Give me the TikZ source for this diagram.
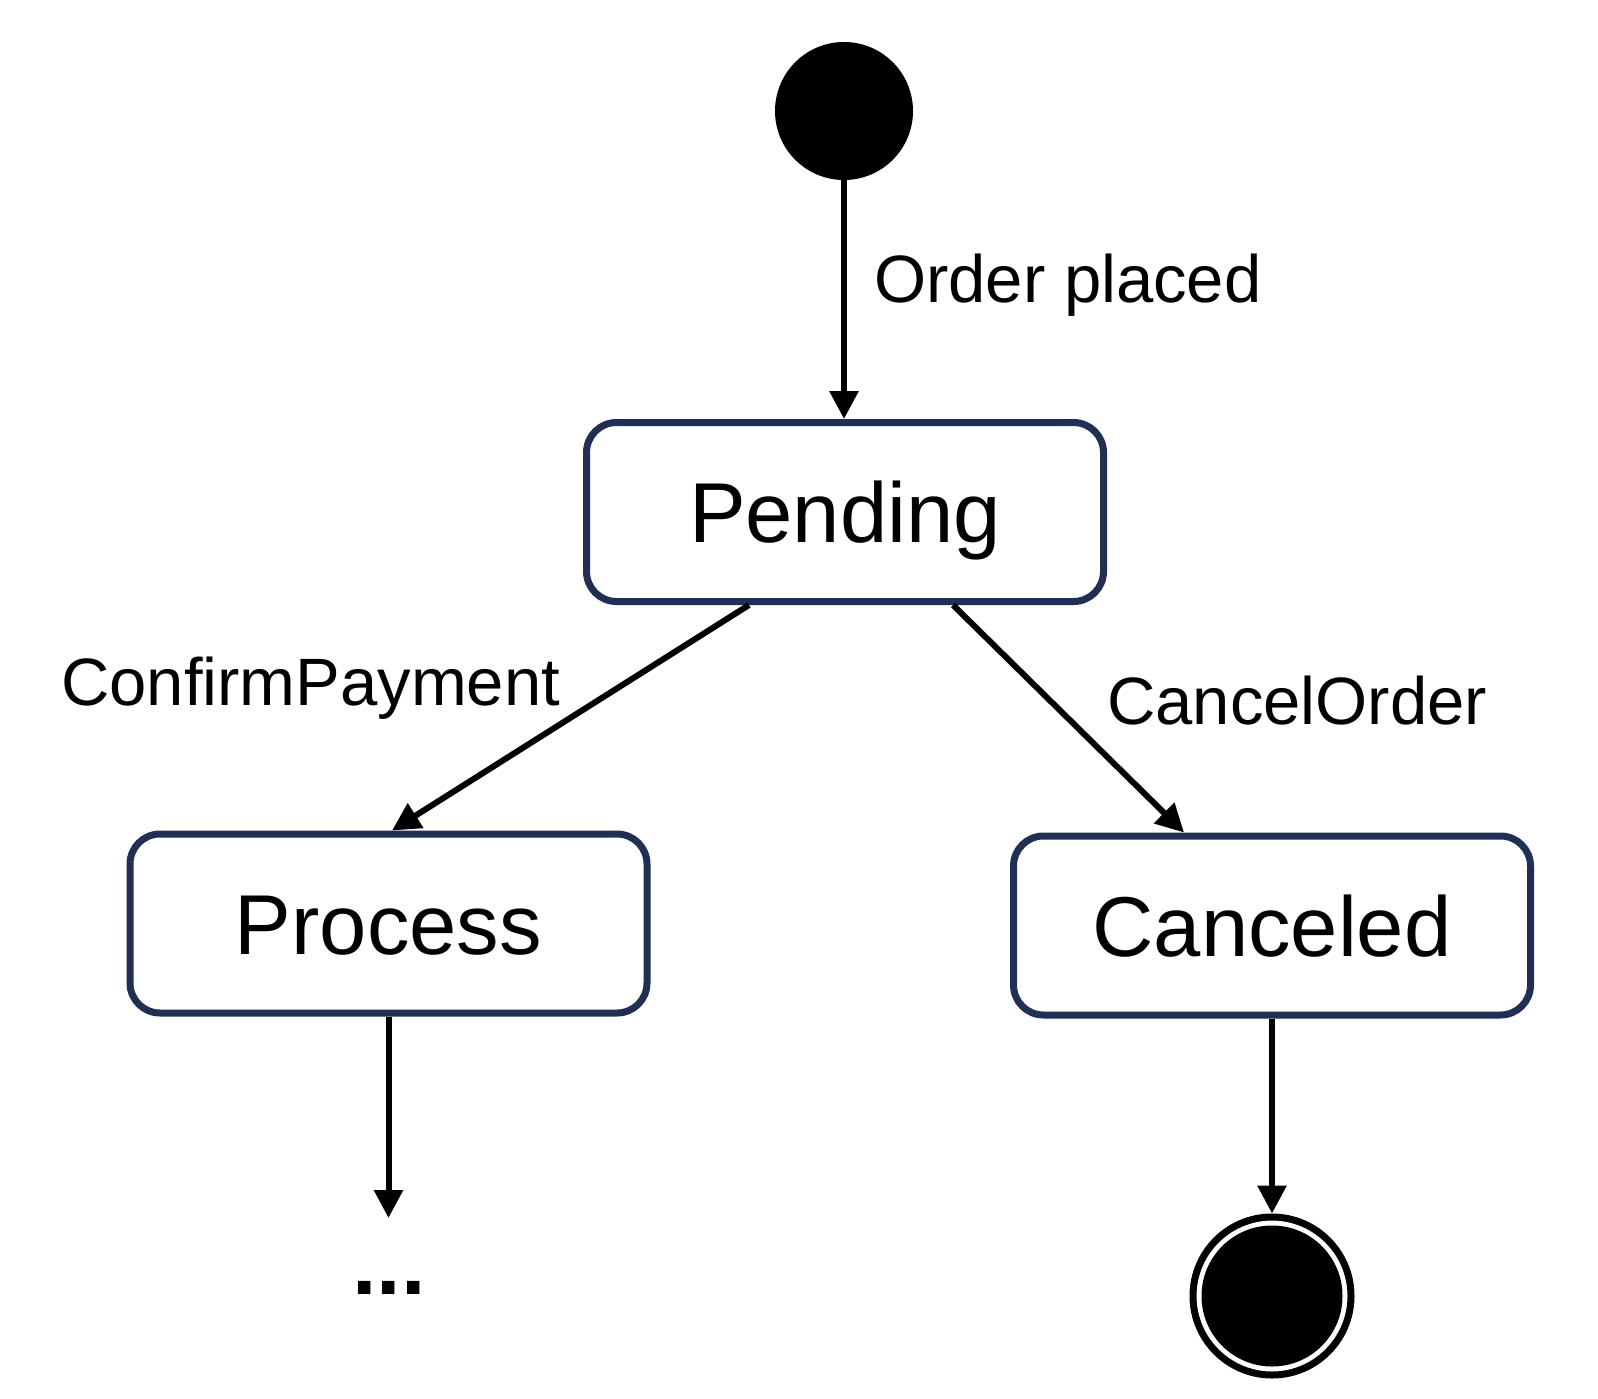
\documentclass[tikz,border=0pt]{standalone}
\usepackage{fontspec}
\setmainfont{Liberation Sans}
\usetikzlibrary{arrows.meta}
\definecolor{navy}{RGB}{33,47,85}
\begin{document}
\begin{tikzpicture}[x=1pt,y=-1pt,
  statebox/.style={draw=navy, line width=7pt, rounded corners=30pt, fill=white,
    minimum width=517pt, minimum height=179pt, inner sep=0pt,
    font=\fontsize{85}{100}\selectfont, text height=61pt, text depth=0pt},
  lbl/.style={inner sep=0pt, font=\fontsize{67}{80}\selectfont, anchor=base west},
  trans/.style={line width=6pt, -{Triangle[length=28pt,width=28pt]}}
]
\useasboundingbox (0,0) rectangle (1598,1398);
\node[circle, fill=black, minimum size=138pt, inner sep=0pt] (init) at (844,111) {};
\node[statebox] (pend) at (845,512) {Pending};
\node[statebox] (proc) at (388.5,923.5) {Process};
\node[statebox] (canc) at (1272,925.5) {Canceled};
\node[circle, draw=black, fill=white, line width=7pt, minimum size=158pt, inner sep=0pt] (final) at (1272,1296) {};
\fill[black] (final.center) circle (70.5pt);
\coordinate (procend) at (388.5,1218);
\node[inner sep=0pt, font=\bfseries\fontsize{88}{100}\selectfont, anchor=base] (dots) at (389,1294) {...};

\draw[trans] (init.south) -- (init.south |- pend.north);
\draw[trans] ([xshift=-96pt]pend.south) -- ([xshift=3.5pt]proc.north);
\draw[trans] ([xshift=108pt]pend.south) -- ([xshift=-88pt]canc.north);
\draw[trans] (proc.south) -- (procend);
\draw[trans] (canc.south) -- (final.north);

\node[lbl] (l1) at (874,302) {Order placed};
\node[lbl] (l2) at (61,705) {ConfirmPayment};
\node[lbl] (l3) at (1107,724) {CancelOrder};
\end{tikzpicture}
\end{document}
